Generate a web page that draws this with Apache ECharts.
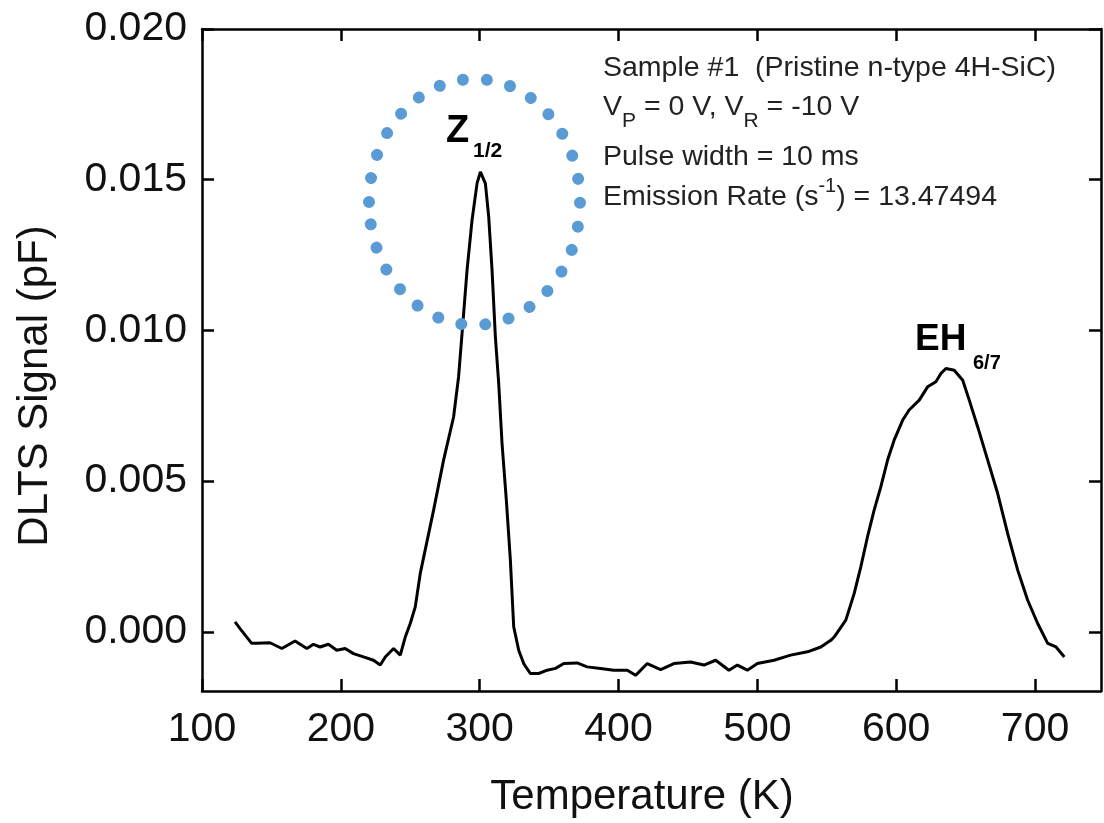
<!DOCTYPE html>
<html>
<head>
<meta charset="utf-8">
<script src="https://cdn.jsdelivr.net/npm/echarts@6/dist/echarts.min.js"></script>
<style>
html,body{margin:0;padding:0;background:#fff;}
#chart{width:1104px;height:823px;}
</style>
</head>
<body>
<div id="chart"></div>
<script>
// Temperature (K)
const temperature = [
  123.8,127.4,135.8,139.4,149.0,157.5,167.0,175.5,180.3,185.1,191.0,197.1,203.1,209.1,216.3,223.5,228.4,232.0,238.0,242.8,
  246.4,250.0,253.6,257.2,266.8,274.0,281.2,284.8,287.3,290.9,294.5,298.1,300.5,304.1,306.5,308.9,311.3,313.7,316.1,319.2,
  322.1,324.5,328.1,331.7,336.5,342.5,348.6,354.6,360.6,370.2,377.4,387.0,396.6,406.3,412.3,420.7,430.3,439.9,451.9,461.5,
  470.0,479.5,485.6,492.8,500.0,512.0,524.0,536.1,545.7,552.9,555.3,563.7,569.7,574.5,579.3,584.1,588.9,593.8,598.5,604.6,
  609.3,616.6,622.6,628.6,632.2,635.8,641.8,647.9,652.6,658.7,665.9,673.1,680.3,687.5,694.7,701.9,709.1,715.1,721.1
];
// DLTS Signal (pF)
const signal = [
  0.00033,0.00011,-0.00038,-0.00038,-0.00036,-0.00055,-0.00030,-0.00055,-0.00041,-0.00050,-0.00041,-0.00061,-0.00055,-0.00072,-0.00083,-0.00094,-0.00110,-0.00083,-0.00055,-0.00077,
  -0.00017,0.00028,0.00083,0.00194,0.00404,0.00570,0.00713,0.00846,0.00990,0.01200,0.01366,0.01488,0.01526,0.01488,0.01377,0.01200,0.00979,0.00824,0.00625,0.00437,
  0.00238,0.00017,-0.00061,-0.00105,-0.00138,-0.00138,-0.00127,-0.00121,-0.00105,-0.00103,-0.00116,-0.00121,-0.00127,-0.00127,-0.00144,-0.00105,-0.00125,-0.00105,-0.00100,-0.00110,
  -0.00094,-0.00127,-0.00110,-0.00127,-0.00105,-0.00094,-0.00077,-0.00066,-0.00050,-0.00028,-0.00017,0.00039,0.00127,0.00216,0.00315,0.00404,0.00481,0.00570,0.00636,0.00702,
  0.00736,0.00769,0.00813,0.00830,0.00857,0.00874,0.00868,0.00835,0.00769,0.00680,0.00570,0.00459,0.00326,0.00205,0.00105,0.00028,-0.00038,-0.00050,-0.00083
];
const xTicks = [100,200,300,400,500,600,700];
const yTicks = [0,0.005,0.010,0.015,0.020];

const FONT = '"Liberation Sans", Arial, sans-serif';
const chart = echarts.init(document.getElementById('chart'), null, {renderer:'canvas'});

const axisLineStyle = {show:true, onZero:false, lineStyle:{color:'#000', width:2.5}};
const tickStyle = {inside:true, length:12, lineStyle:{color:'#000', width:2.5}};

const data = temperature.map((t,i)=>[t, signal[i]]);

chart.setOption({
  animation:false,
  backgroundColor:'#fff',
  grid:{left:202, right:3, top:29, bottom:132, containLabel:false},
  xAxis:[
    {type:'value', position:'bottom', min:100, max:747.5, interval:100,
     axisLine:axisLineStyle, splitLine:{show:false},
     axisTick:Object.assign({customValues:xTicks}, tickStyle),
     axisLabel:{customValues:xTicks, fontSize:41, fontFamily:FONT, color:'#111', margin:18}},
    {type:'value', position:'top', min:100, max:747.5, interval:100,
     axisLine:axisLineStyle, splitLine:{show:false},
     axisTick:Object.assign({customValues:xTicks}, tickStyle),
     axisLabel:{show:false}}
  ],
  yAxis:[
    {type:'value', position:'left', min:-0.00196, max:0.020,
     axisLine:axisLineStyle, splitLine:{show:false},
     axisTick:Object.assign({customValues:yTicks}, tickStyle),
     axisLabel:{customValues:yTicks, fontSize:41, fontFamily:FONT, color:'#111', margin:15,
                formatter:v=>v.toFixed(3)}},
    {type:'value', position:'right', min:-0.00196, max:0.020,
     axisLine:axisLineStyle, splitLine:{show:false},
     axisTick:Object.assign({customValues:yTicks}, tickStyle),
     axisLabel:{show:false}}
  ],
  series:[{
    type:'line', xAxisIndex:0, yAxisIndex:0, data:data,
    showSymbol:false, symbol:'none',
    lineStyle:{color:'#000', width:3}
  }],
  graphic:[
    {type:'ellipse', shape:{cx:474.5, cy:202, rx:105.5, ry:123}, z:10,
     style:{fill:null, stroke:'#5b9bd5', lineWidth:12, lineDash:[0.01,24], lineCap:'round'}},
    {type:'text', x:446, y:132, z:20, style:{text:'Z', font:'bold 38px '+FONT, fill:'#000', align:'left', verticalAlign:'middle'}},
    {type:'text', x:473, y:151, z:20, style:{text:'1/2', font:'bold 21px '+FONT, fill:'#000', align:'left', verticalAlign:'middle'}},
    {type:'text', x:915, y:340, z:20, style:{text:'EH', font:'bold 37px '+FONT, fill:'#000', align:'left', verticalAlign:'middle'}},
    {type:'text', x:973, y:363, z:20, style:{text:'6/7', font:'bold 20px '+FONT, fill:'#000', align:'left', verticalAlign:'middle'}},
    {type:'text', x:603, y:68, z:20, style:{text:'Sample #1  (Pristine n-type 4H-SiC)', font:'28.5px '+FONT, fill:'#222', align:'left', verticalAlign:'middle'}},
    {type:'text', x:603, y:107, z:20, style:{
      text:'{n|V}{sub|P}{n| = 0 V, V}{sub|R}{n| = -10 V}', align:'left', verticalAlign:'middle',
      rich:{n:{fontSize:28.5, fontFamily:FONT, fill:'#222'}, sub:{fontSize:21, fontFamily:FONT, fill:'#222', padding:[28,0,0,0]}}}},
    {type:'text', x:603, y:157, z:20, style:{text:'Pulse width = 10 ms', font:'28.5px '+FONT, fill:'#222', align:'left', verticalAlign:'middle'}},
    {type:'text', x:603, y:197, z:20, style:{
      text:'{n|Emission Rate (s}{sup|-1}{n|) = 13.47494}', align:'left', verticalAlign:'middle',
      rich:{n:{fontSize:28.5, fontFamily:FONT, fill:'#222'}, sup:{fontSize:20, fontFamily:FONT, fill:'#222', padding:[0,0,22,0]}}}},
    {type:'text', x:642, y:797, z:20, style:{text:'Temperature (K)', font:'42px '+FONT, fill:'#111', align:'center', verticalAlign:'middle'}},
    {type:'text', x:35, y:386, rotation:Math.PI/2, z:20, style:{text:'DLTS Signal (pF)', font:'42px '+FONT, fill:'#111', align:'center', verticalAlign:'middle'}}
  ]
});
</script>
</body>
</html>
